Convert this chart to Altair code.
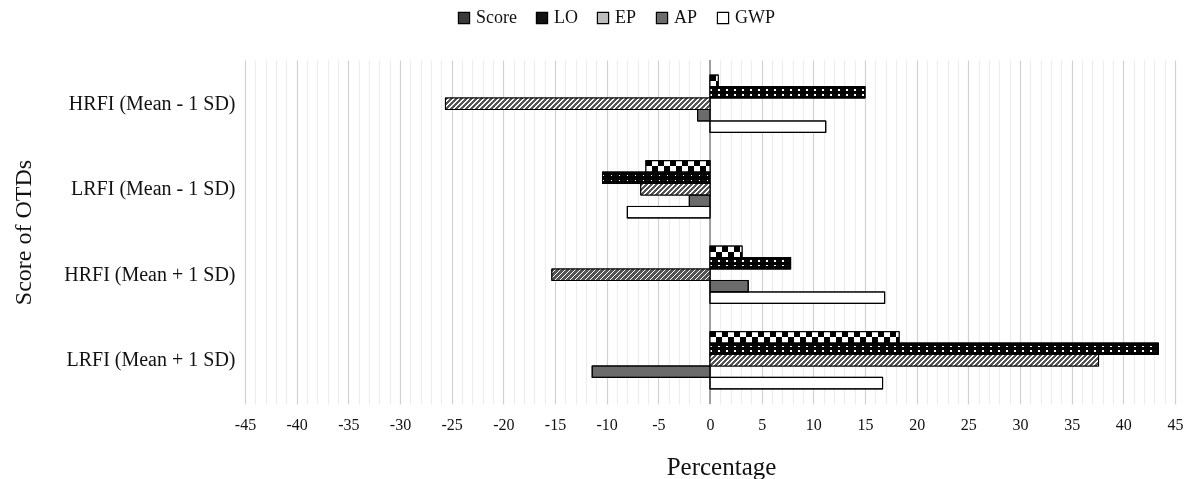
import math
import altair as alt
import pandas as pd

# ---------------- data ----------------
categories = ["HRFI (Mean - 1 SD)", "LRFI (Mean - 1 SD)",
              "HRFI (Mean + 1 SD)", "LRFI (Mean + 1 SD)"]
series = ["Score", "LO", "EP", "AP", "GWP"]
score = [0.8, -6.2, 3.1, 18.3]
lo = [15.0, -10.4, 7.8, 43.4]
ep = [-25.6, -6.7, -15.3, 37.6]
ap = [-1.2, -2.0, 3.7, -11.4]
gwp = [11.2, -8.0, 16.9, 16.7]
x_ticks = list(range(-45, 46, 1))

values = {"Score": score, "LO": lo, "EP": ep, "AP": ap, "GWP": gwp}
rows = []
for s in series:
    for i, c in enumerate(categories):
        rows.append({"cat": c, "ci": i, "series": s, "value": values[s][i]})
df = pd.DataFrame(rows)

# ---------------- geometry / style ----------------
W, H = 930, 344
X_MIN, X_MAX = -45, 45
PI, PO = 0.33, 0.177
step = H / (len(categories) - PI + 2 * PO)
bar_h = step * (1 - PI) / len(series)
px_per_unit = W / (X_MAX - X_MIN)
FONT = "Liberation Serif"

legend_colors = ["#3a3a3a", "#111111", "#bdbdbd", "#6b6b6b", "#ffffff"]


def stripes(length_px, period, on, on_color, off_color, horizontal=True):
    stops = []
    n = int(math.ceil(length_px / period))
    for i in range(n):
        a = i * period / length_px
        if a >= 1:
            break
        b = min((i * period + on) / length_px, 1)
        c = min((i + 1) * period / length_px, 1)
        stops += [{"offset": a, "color": on_color}, {"offset": b, "color": on_color},
                  {"offset": b, "color": off_color}, {"offset": c, "color": off_color}]
    if horizontal:
        return {"gradient": "linear", "x1": 0, "y1": 0, "x2": 1, "y2": 0, "stops": stops}
    return {"gradient": "linear", "x1": 0, "y1": 0, "x2": 0, "y2": 1, "stops": stops}


def hatch(width_px, height_px, period, on, on_color, off_color):
    k = height_px / width_px
    s = (1 + k) / (1 + k * k)
    total = width_px + height_px
    stops = []
    n = int(math.ceil(total / period))
    for i in range(n):
        a = i * period / total
        if a >= 1:
            break
        b = min((i * period + on) / total, 1)
        c = min((i + 1) * period / total, 1)
        stops += [{"offset": a, "color": off_color}, {"offset": b, "color": off_color},
                  {"offset": b, "color": on_color}, {"offset": c, "color": on_color}]
    return {"gradient": "linear", "x1": 0, "y1": 0, "x2": s, "y2": s * k, "stops": stops}


x_scale = alt.Scale(domain=[X_MIN, X_MAX], nice=False, zero=False)
x_axis = alt.Axis(
    values=x_ticks, tickCount=500,
    labelExpr="datum.value % 5 === 0 ? '' + datum.value : ''",
    labelOverlap=False, labelFlush=False,
    labelFontSize=16, labelColor="#111", labelPadding=12,
    ticks=False, tickSize=0, domain=False,
    grid=True,
    gridColor={"condition": {"test": "datum.value % 5 === 0", "value": "#d2d2d2"},
               "value": "#ededed"},
    gridWidth=1.2,
    title="Percentage", titleFontSize=25, titleFontWeight="normal", titleColor="#111",
    titleX=476, titleY=70, titleBaseline="alphabetic",
)
y_axis = alt.Axis(
    domain=False, ticks=False, labelFontSize=20, labelColor="#111", labelPadding=10,
    title="Score of OTDs", titleFontSize=24, titleFontWeight="normal", titleColor="#111",
    titleX=-222, titleY=H / 2, titleBaseline="middle", titleAngle=-90,
)

x_enc = alt.X("value:Q", scale=x_scale, axis=x_axis)
y_enc = alt.Y("cat:N", scale=alt.Scale(domain=categories, paddingInner=PI, paddingOuter=PO),
              axis=y_axis)
yo_enc = alt.YOffset("series:N", scale=alt.Scale(domain=series, paddingInner=0, paddingOuter=0))

base = alt.Chart(df)

zero_rule = base.mark_rule(color="#a0a0a0", strokeWidth=1).encode(x=alt.datum(0))

bars = base.mark_bar(stroke="black", strokeWidth=1).encode(
    x=x_enc, y=y_enc, yOffset=yo_enc,
    fill=alt.Fill("series:N", scale=alt.Scale(domain=series, range=legend_colors),
                  legend=alt.Legend(
                      orient="none", direction="horizontal", legendX=210, legendY=-51,
                      title=None, symbolType="square", symbolSize=125,
                      symbolStrokeColor="black", symbolStrokeWidth=1.2,
                      labelFontSize=18, labelColor="#111", labelOffset=3,
                      columnPadding=16,
                  )),
)

layers = [zero_rule, bars]

for i, c in enumerate(categories):
    # Score: checker = vertical stripes XOR half bands
    wpx = abs(score[i]) * px_per_unit
    layers.append(
        base.transform_filter(f"datum.series === 'Score' && datum.ci === {i}")
        .mark_bar(fill=stripes(wpx, 12, 6, "#000000", "#ffffff"))
        .encode(x=x_enc, y=y_enc, yOffset=yo_enc)
    )
    # LO: black with white dots (vertical thin white stripes, multiplied later)
    wpx = abs(lo[i]) * px_per_unit
    layers.append(
        base.transform_filter(f"datum.series === 'LO' && datum.ci === {i}")
        .mark_bar(fill=stripes(wpx, 8, 1.6, "#ffffff", "#0a0a0a"))
        .encode(x=x_enc, y=y_enc, yOffset=yo_enc)
    )
    # EP: diagonal hatch
    wpx = abs(ep[i]) * px_per_unit
    layers.append(
        base.transform_filter(f"datum.series === 'EP' && datum.ci === {i}")
        .mark_bar(fill=hatch(wpx, bar_h, 5, 3.2, "#ffffff", "#555555"))
        .encode(x=x_enc, y=y_enc, yOffset=yo_enc)
    )

# overlays that turn stripes into checks / dots
layers.append(
    base.transform_filter("datum.series === 'Score'")
    .mark_bar(blend="difference",
              fill={"gradient": "linear", "x1": 0, "y1": 0, "x2": 0, "y2": 1,
                    "stops": [{"offset": 0, "color": "#000000"},
                              {"offset": 0.5, "color": "#000000"},
                              {"offset": 0.5, "color": "#ffffff"},
                              {"offset": 1, "color": "#ffffff"}]})
    .encode(x=x_enc, y=y_enc, yOffset=yo_enc)
)
layers.append(
    base.transform_filter("datum.series === 'LO'")
    .mark_bar(blend="multiply",
              fill={"gradient": "linear", "x1": 0, "y1": 0, "x2": 0, "y2": 1,
                    "stops": [{"offset": 0, "color": "#000000"},
                              {"offset": 0.25, "color": "#000000"},
                              {"offset": 0.25, "color": "#ffffff"},
                              {"offset": 0.38, "color": "#ffffff"},
                              {"offset": 0.38, "color": "#000000"},
                              {"offset": 0.65, "color": "#000000"},
                              {"offset": 0.65, "color": "#ffffff"},
                              {"offset": 0.78, "color": "#ffffff"},
                              {"offset": 0.78, "color": "#000000"},
                              {"offset": 1, "color": "#000000"}]})
    .encode(x=x_enc, y=y_enc, yOffset=yo_enc)
)
# outlines on top
layers.append(
    base.mark_bar(fillOpacity=0, stroke="black", strokeWidth=1.1)
    .encode(x=x_enc, y=y_enc, yOffset=yo_enc)
)

chart = (
    alt.layer(*layers)
    .properties(width=W, height=H,
                autosize=alt.AutoSizeParams(type="none"),
                padding={"left": 237, "top": 52, "right": 10, "bottom": 75})
    .configure(font=FONT)
    .configure_view(stroke=None)
)

chart.save("out.html", embed_options={"renderer": "svg", "actions": False})
